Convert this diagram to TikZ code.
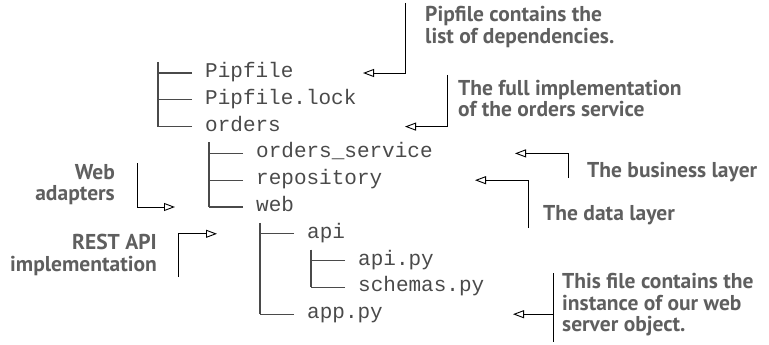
\documentclass[tikz,border=0pt]{standalone}
\usepackage{fontspec}
\usetikzlibrary{positioning, arrows.meta, calc}
\newfontfamily\treefont{Liberation Mono}
\newfontfamily\notefont{PT Sans}
\definecolor{treegray}{HTML}{4A4A4A}
\definecolor{notegray}{HTML}{5F5F5F}
\tikzset{
  > = {Triangle[open, length = 11pt, width = 8pt]},   % open arrowheads
  entry/.style = {anchor = west, inner sep = 0pt, text height = 13pt, text depth = 4pt,
    font = \treefont\fontsize{21}{26}\selectfont, text = treegray},
  branch/.style = {draw = treegray, line width = 1.3pt},
  note/.style = {inner sep = 0pt, text = notegray,
    font = \notefont\bfseries\fontsize{21.5}{21.5}\selectfont},
  callout/.style = {->, line width = 0.9pt},
  leader/.style = {line width = 0.9pt}
}
\def \rowgap {26.8}

\begin{document}
\begin{tikzpicture}[x = 1pt, y = -1pt]
\useasboundingbox (0,0) rectangle (769,345);

%% Tree entries
\foreach \name/\lvl/\row/\txt in {pipfile/0/1/Pipfile, pipfilelock/0/2/Pipfile.lock,
    orders/0/3/orders, service/1/4/orders\_service, repository/1/5/repository,
    web/1/6/web, api/2/7/api, apipy/3/8/api.py, schemas/3/9/schemas.py, app/2/10/app.py}
  \node [entry] (\name) at ({205 + 51*\lvl}, {73 + \rowgap*(\row - 1)}) {\txt};

%% Branches
\foreach \kid in {pipfile, pipfilelock, orders, service, repository, web, api, apipy, schemas, app}
  \draw [branch] ([xshift = -13pt]\kid.west) -- ([xshift = -47pt]\kid.west);
\draw [branch] ([xshift = -47pt, yshift = 11pt]pipfile.west) -- ([xshift = -47pt]orders.west);
\draw [branch] ([xshift = -47pt, yshift = 11pt]service.west) -- ([xshift = -47pt]web.west);
\draw [branch] ([xshift = -47pt, yshift = 11pt]api.west) -- ([xshift = -47pt]app.west);
\draw [branch] ([xshift = -47pt, yshift = 11pt]apipy.west) -- ([xshift = -47pt]schemas.west);

%% Notes
\node [note, align = left, anchor = west] (deps) at (425,27) {Pipfile contains the\\list of dependencies.};
\node [note, align = left, anchor = west] (impl) at (458,98.5) {The full implementation\\of the orders service};
\node [note, anchor = west] (business) at (587,172) {The business layer};
\node [note, anchor = west] (data) at (543,215) {The data layer};
\node [note, align = left, anchor = west] (server) at (562,305) {This file contains the\\instance of our web\\server object.};
\node [note, align = right, anchor = east] (adapters) at (115,184.5) {Web\\adapters};
\node [note, align = right, anchor = east] (rest) at (157,255) {REST API\\implementation};

%% Callouts
\coordinate (deps-end) at (405,3);
\coordinate (deps-tip) at (363,0 |- pipfile.west);
\draw [callout] (deps-end) |- (deps-tip);

\coordinate (impl-end) at (447,75);
\coordinate (impl-tip) at (405,0 |- orders.west);
\draw [callout] (impl-end) |- (impl-tip);

\coordinate (business-end) at (568,178);
\coordinate (business-tip) at (515,0 |- service.west);
\draw [callout] (business-end) |- (business-tip);

\coordinate (data-end) at (528,228);
\coordinate (data-tip) at (475,0 |- repository.west);
\draw [callout] (data-end) |- (data-tip);

\coordinate (server-top) at (553,273);
\coordinate (server-end) at (553,342);
\coordinate (server-tip) at (513,0 |- app.west);
\draw [leader] (server-top) -- (server-end);
\draw [callout] (server-top |- server-tip) -- (server-tip);

\coordinate (adapters-end) at (137,163);
\coordinate (adapters-tip) at (175,0 |- web.west);
\draw [callout] (adapters-end) |- (adapters-tip);

\coordinate (rest-end) at (178,277);
\coordinate (rest-tip) at (217,0 |- api.west);
\draw [callout] (rest-end) |- (rest-tip);

\end{tikzpicture}
\end{document}
